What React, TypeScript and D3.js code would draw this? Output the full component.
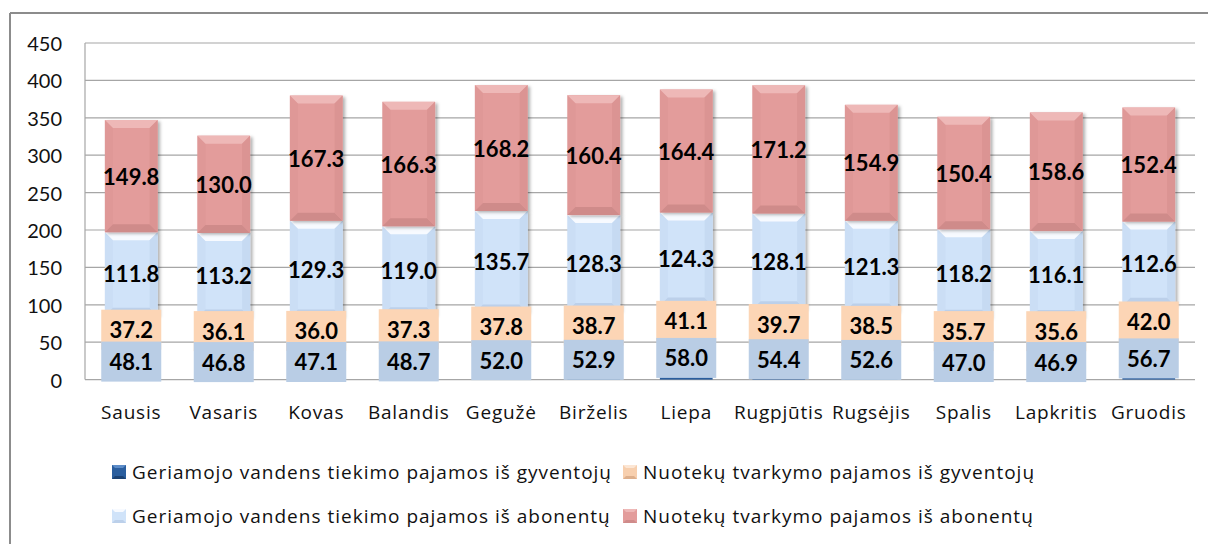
import React from 'react';
import * as d3 from 'd3';

const months = ['Sausis', 'Vasaris', 'Kovas', 'Balandis', 'Gegužė', 'Birželis', 'Liepa', 'Rugpjūtis', 'Rugsėjis', 'Spalis', 'Lapkritis', 'Gruodis'];

const waterResidents = [48.1, 46.8, 47.1, 48.7, 52.0, 52.9, 58.0, 54.4, 52.6, 47.0, 46.9, 56.7];
const sewageResidents = [37.2, 36.1, 36.0, 37.3, 37.8, 38.7, 41.1, 39.7, 38.5, 35.7, 35.6, 42.0];
const waterSubscribers = [111.8, 113.2, 129.3, 119.0, 135.7, 128.3, 124.3, 128.1, 121.3, 118.2, 116.1, 112.6];
const sewageSubscribers = [149.8, 130.0, 167.3, 166.3, 168.2, 160.4, 164.4, 171.2, 154.9, 150.4, 158.6, 152.4];

const seriesNames = [
  'Geriamojo vandens tiekimo pajamos iš gyventojų',
  'Nuotekų tvarkymo pajamos iš gyventojų',
  'Geriamojo vandens tiekimo pajamos iš abonentų',
  'Nuotekų tvarkymo pajamos iš abonentų',
];

const yTicks = [0, 50, 100, 150, 200, 250, 300, 350, 400, 450];

// base, top bevel, bottom bevel, side shade
const palette = [
  { base: '#2A5E9E', top: '#5C8CC8', bottom: '#1B4273', side: '#234F86' },
  { base: '#F7CFAE', top: '#FCE6D4', bottom: '#DDAF8C', side: '#EDC19E' },
  { base: '#D0E3F9', top: '#F7FAFF', bottom: '#BCD0EA', side: '#C6DAF2' },
  { base: '#E39C9B', top: '#EEB8B7', bottom: '#CF8B8A', side: '#DB9493' },
];
const boxFill = ['#B9CDE5', '#FCD5B5'];

const FONT = '"Open Sans", Lato, sans-serif';
const LABEL_FONT = 'Lato, "Open Sans", sans-serif';

export default function App() {
  const width = 1208;
  const height = 544;
  const left = 85, right = 1195, top = 43, bottom = 379.6;

  const x = d3.scaleBand<string>().domain(months).range([left, right]).paddingInner(0.43).paddingOuter(0.215);
  const y = d3.scaleLinear().domain([0, 450]).range([bottom, top]);

  const table = months.map((m, i) => ({
    month: m,
    s0: waterResidents[i],
    s1: sewageResidents[i],
    s2: waterSubscribers[i],
    s3: sewageSubscribers[i],
  }));
  const stack = d3.stack<any>().keys(['s0', 's1', 's2', 's3']);
  const layers = stack(table);

  const bw = x.bandwidth();
  const bev = 8;

  const bevelBar = (x0: number, y0: number, w: number, h: number, c: typeof palette[0], key: string) => {
    const x1 = x0 + w, y1 = y0 + h;
    const b = Math.min(bev, h / 3);
    return (
      <g key={key}>
        <rect x={x0} y={y0} width={w} height={h} fill={c.base} filter="url(#shadow)" />
        <polygon points={`${x0},${y0} ${x1},${y0} ${x1 - b},${y0 + b} ${x0 + b},${y0 + b}`} fill={c.top} />
        <polygon points={`${x0},${y1} ${x1},${y1} ${x1 - b},${y1 - b} ${x0 + b},${y1 - b}`} fill={c.bottom} />
        <polygon points={`${x1},${y0} ${x1},${y1} ${x1 - b},${y1 - b} ${x1 - b},${y0 + b}`} fill={c.side} />
        <polygon points={`${x0},${y0} ${x0},${y1} ${x0 + b},${y1 - b} ${x0 + b},${y0 + b}`} fill={c.side} opacity={0.5} />
      </g>
    );
  };

  const legendItems = [
    { i: 0, x: 112, y: 472 },
    { i: 1, x: 623, y: 472 },
    { i: 2, x: 112, y: 516 },
    { i: 3, x: 623, y: 516 },
  ];

  return (
    <svg width={width} height={height} style={{ position: 'absolute', left: 0, top: 0, background: '#fff' }} fontFamily={FONT}>
      <defs>
        <filter id="shadow" x="-20%" y="-20%" width="150%" height="140%">
          <feDropShadow dx="2.5" dy="1.5" stdDeviation="1.5" floodColor="#000" floodOpacity="0.3" />
        </filter>
      </defs>
      <rect x={0} y={0} width={width} height={height} fill="#fff" />
      {/* outer frame */}
      <line x1={10} y1={13} x2={width} y2={13} stroke="#8C8C8C" strokeWidth={2} />
      <line x1={10} y1={13} x2={10} y2={height} stroke="#8C8C8C" strokeWidth={2} />

      {/* gridlines */}
      {yTicks.map(t => (
        <g key={t}>
          <line x1={left} x2={right} y1={y(t)} y2={y(t)} stroke="#A6A6A6" strokeWidth={1.2} />
          <text x={62} y={y(t)} textAnchor="end" dominantBaseline="central" fontSize={20} fontFamily={LABEL_FONT} fill="#111">{t}</text>
        </g>
      ))}
      <line x1={left} x2={left} y1={top} y2={bottom} stroke="#A6A6A6" strokeWidth={1.2} />

      {/* bars */}
      {layers.map((layer, si) =>
        layer.map((d, i) => {
          const x0 = x(months[i]) as number;
          const y0 = y(d[1]);
          const h = y(d[0]) - y(d[1]);
          if (si < 2) {
            return <rect key={`b${si}-${i}`} x={x0} y={y0} width={bw} height={h} fill={palette[si].base} />;
          }
          return bevelBar(x0, y0, bw, h, palette[si], `b${si}-${i}`);
        })
      )}

      {/* label boxes for the lower two series */}
      {[1, 0].map(si =>
        layers[si].map((d, i) => {
          const cx = (x(months[i]) as number) + bw / 2;
          const cy = y((d[0] + d[1]) / 2);
          return <rect key={`box${si}-${i}`} x={cx - 30} y={cy - 20} width={60} height={40} fill={boxFill[si]} />;
        })
      )}

      {/* data labels */}
      {layers.map((layer, si) =>
        layer.map((d, i) => {
          const cx = (x(months[i]) as number) + bw / 2;
          const cy = y((d[0] + d[1]) / 2);
          return (
            <text key={`l${si}-${i}`} x={cx} y={cy} textAnchor="middle" dominantBaseline="central" fontSize={22} fontWeight="bold" fontFamily={LABEL_FONT} fill="#000">
              {(d[1] - d[0]).toFixed(1)}
            </text>
          );
        })
      )}

      {/* category labels */}
      {months.map(m => (
        <text key={m} x={(x(m) as number) + bw / 2} y={419} textAnchor="middle" fontSize={19} letterSpacing={0.8} fill="#111">{m}</text>
      ))}

      {/* legend */}
      {legendItems.map(({ i, x: lx, y: ly }) => {
        const c = palette[i];
        const s = 14;
        return (
          <g key={i}>
            <rect x={lx} y={ly - s / 2} width={s} height={s} fill={c.base} />
            <polygon points={`${lx},${ly - s / 2} ${lx + s},${ly - s / 2} ${lx + s - 3},${ly - s / 2 + 3} ${lx + 3},${ly - s / 2 + 3}`} fill={c.top} />
            <polygon points={`${lx},${ly + s / 2} ${lx + s},${ly + s / 2} ${lx + s - 3},${ly + s / 2 - 3} ${lx + 3},${ly + s / 2 - 3}`} fill={c.bottom} />
            <text x={lx + 20} y={ly} dominantBaseline="central" fontSize={19} letterSpacing={1} fill="#111">{seriesNames[i]}</text>
          </g>
        );
      })}
    </svg>
  );
}
